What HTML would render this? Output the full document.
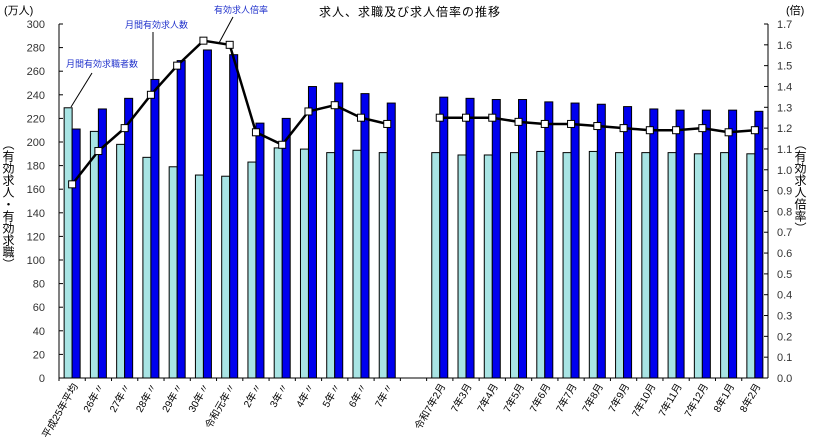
<!DOCTYPE html><html><head><meta charset="utf-8"><style>body{margin:0;background:#fff}svg{display:block;font-family:"Liberation Sans","Noto Sans CJK JP",sans-serif}</style></head><body>
<svg id="s" width="820" height="446" xmlns="http://www.w3.org/2000/svg"></svg>
<script>
const L=[229,209,198,187,179,172,171,183,195,194,191,193,191,191,189,189,191,192,191,192,191,191,191,190,191,190];
const B=[211,228,237,253,269,278,274,216,220,247,250,241,233,238,237,236,236,234,233,232,230,228,227,227,227,226];
const R=[0.93,1.09,1.20,1.36,1.50,1.62,1.60,1.18,1.12,1.28,1.31,1.25,1.22,1.25,1.25,1.25,1.23,1.22,1.22,1.21,1.20,1.19,1.19,1.20,1.18,1.19];
const lab=["平成25年平均","26年〃","27年〃","28年〃","29年〃","30年〃","令和元年〃","2年〃","3年〃","4年〃","5年〃","6年〃","7年〃","令和7年2月","7年3月","7年4月","7年5月","7年6月","7年7月","7年8月","7年9月","7年10月","7年11月","7年12月","8年1月","8年2月"];
const x0=59,x1=768,y0=378,y1=24,sw=(x1-x0)/27;
const yv=v=>y0-v*(y0-y1)/300, yr=v=>y0-v*(y0-y1)/1.7;
let h='';
h+=`<line x1="${x0}" y1="${y1}" x2="${x0}" y2="${y0}" stroke="#000"/><line x1="${x1}" y1="${y1}" x2="${x1}" y2="${y0}" stroke="#000"/><line x1="${x0}" y1="${y0}" x2="${x1}" y2="${y0}" stroke="#000"/>`;
for(let v=0;v<=300;v+=20){const y=yv(v);h+=`<line x1="${x0}" y1="${y}" x2="${x0+4}" y2="${y}" stroke="#000"/><text x="${x0-14}" y="${y+4}" font-size="11" text-anchor="end" fill="#333">${v}</text>`;}
for(let i=0;i<=17;i++){const y=yr(i/10);h+=`<line x1="${x1-4}" y1="${y}" x2="${x1}" y2="${y}" stroke="#000"/><text x="${x1+9}" y="${y+4}" font-size="11" fill="#333">${(i/10).toFixed(1)}</text>`;}
const cx=i=>x0+sw*(i<13?i:i+1)+sw/2;
for(let i=0;i<27;i++){h+=`<line x1="${x0+sw*i}" y1="${y0}" x2="${x0+sw*i}" y2="${y0+3}" stroke="#000"/>`;}
let pts1=[],pts2=[];
for(let i=0;i<26;i++){const c=cx(i);
h+=`<rect x="${c-8}" y="${yv(L[i])}" width="8" height="${y0-yv(L[i])}" fill="#a8e4e4" stroke="#000" stroke-width="1"/>`;
h+=`<rect x="${c}" y="${yv(B[i])}" width="8" height="${y0-yv(B[i])}" fill="#0000ee" stroke="#000" stroke-width="1"/>`;
(i<13?pts1:pts2).push(c+','+yr(R[i]));
h+=`<text transform="translate(${c+6},${y0+8}) rotate(-60)" font-size="10" text-anchor="end" fill="#000">${lab[i]}</text>`;}
h+=`<polyline points="${pts1.join(' ')}" fill="none" stroke="#000" stroke-width="2.5"/><polyline points="${pts2.join(' ')}" fill="none" stroke="#000" stroke-width="2.5"/>`;
for(let i=0;i<26;i++){h+=`<rect x="${cx(i)-3.5}" y="${yr(R[i])-3.5}" width="7" height="7" fill="#fff" stroke="#000"/>`;}
h+=`<text x="410" y="16" font-size="12" text-anchor="middle" letter-spacing="1">求人、求職及び求人倍率の推移</text>`;
h+=`<text x="4" y="14" font-size="11">(万人)</text><text x="786" y="14" font-size="11">(倍)</text>`;
h+=`<text x="8" y="138" font-size="12" style="writing-mode:vertical-rl">（有効求人・有効求職）</text>`;
h+=`<text x="800" y="138" font-size="12" style="writing-mode:vertical-rl">（有効求人倍率）</text>`;
h+=`<text x="66" y="67" font-size="9" fill="#2233cc">月間有効求職者数</text><line x1="92" y1="73" x2="71" y2="107" stroke="#000"/>`;
h+=`<text x="125" y="28" font-size="9" fill="#2233cc">月間有効求人数</text><line x1="153" y1="32" x2="153" y2="79" stroke="#000"/>`;
h+=`<text x="214" y="13" font-size="9" fill="#2233cc">有効求人倍率</text><line x1="233" y1="17" x2="219" y2="43" stroke="#000"/>`;
document.getElementById('s').innerHTML=h;
</script></body></html>
